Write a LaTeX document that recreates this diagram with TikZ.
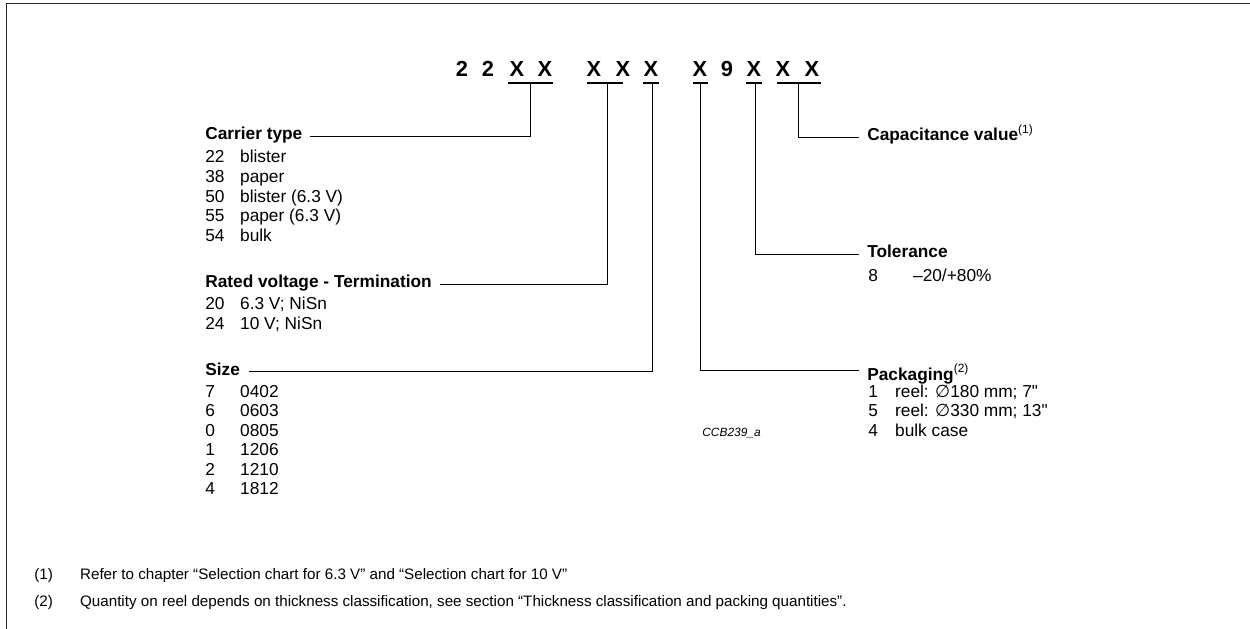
\documentclass[tikz,border=0pt]{standalone}
\usepackage{fontspec}
\setmainfont{Liberation Sans}
\newfontfamily\symfont{DejaVu Sans}
\font\inchfont="Liberation Sans" at 12.3pt
\usetikzlibrary{positioning}
\tikzset{
  codech/.style={font=\fontsize{15.5}{18}\selectfont\bfseries, anchor=base, inner sep=0pt},
  hdr/.style={font=\fontsize{12.3}{14}\selectfont\bfseries, anchor=base west, inner sep=0pt},
  lst/.style={font=\fontsize{12.3}{13.9}\selectfont, anchor=base west, inner sep=0pt},
  fnote/.style={font=\fontsize{10.8}{13}\selectfont, anchor=base west, inner sep=0pt},
  figid/.style={font=\fontsize{8.5}{10}\selectfont\itshape, anchor=base west, inner sep=0pt},
  lead/.style={line width=0.7pt},
  uline/.style={line width=0.8pt},
  frame/.style={line width=1.3pt, black!85},
}
\newcommand{\fnmark}[1]{\raisebox{5pt}{\fontsize{8.5}{10}\selectfont\mdseries(#1)}}
\newcommand{\dia}{{\symfont ∅}}
\newcommand{\inch}{{\inchfont"}}

\begin{document}
\begin{tikzpicture}[x=0.025cm, y=-0.025cm]
  \useasboundingbox (0,0) rectangle (1250,629);
  \draw[frame] (6.5,629) -- (6.5,3.5) -- (1250,3.5);

  % type code
  \foreach \ch/\x [count=\i] in {2/462, 2/488, X/517, X/545, X/594, X/623, X/651, X/700, 9/727, X/754, X/783, X/812}
    \node[codech] (c\i) at (\x,77) {\ch};
  \foreach \a/\b in {508/553, 587/623, 643/659, 693/708, 746/762, 777/821}
    \draw[uline] (\a,83) -- (\b,83);
  \coordinate (u1) at (530,83);
  \coordinate (u2) at (607,83);
  \coordinate (u3) at (652,83);
  \coordinate (u4) at (700,83);
  \coordinate (u5) at (755,83);
  \coordinate (u6) at (798,83);

  % left side
  \node[hdr] (carrier) at (205,140) {Carrier type};
  \node[lst] (carrierlist) at (205,163) {\begin{tabular}[t]{@{}p{24.8pt}@{}l@{}}
    22 & blister\\ 38 & paper\\ 50 & blister (6.3 V)\\ 55 & paper (6.3 V)\\ 54 & bulk
  \end{tabular}};
  \node[hdr] (rated) at (205,288) {Rated voltage - Termination};
  \node[lst] (ratedlist) at (205,310) {\begin{tabular}[t]{@{}p{24.8pt}@{}l@{}}
    20 & 6.3 V; NiSn\\ 24 & 10 V; NiSn
  \end{tabular}};
  \node[hdr] (size) at (205,375) {Size};
  \node[lst] (sizelist) at (205,397) {\begin{tabular}[t]{@{}p{24.8pt}@{}l@{}}
    7 & 0402\\ 6 & 0603\\ 0 & 0805\\ 1 & 1206\\ 2 & 1210\\ 4 & 1812
  \end{tabular}};

  % right side
  \node[hdr] (capval) at (867,141) {Capacitance value\fnmark{1}};
  \node[hdr] (tol) at (867,258) {Tolerance};
  \node[lst] (tollist) at (868,282) {\begin{tabular}[t]{@{}p{31.9pt}@{}l@{}}
    8 & –20/+80\%
  \end{tabular}};
  \node[hdr] (pack) at (867,380) {Packaging\fnmark{2}};
  \node[lst] (packlist) at (868,397) {\begin{tabular}[t]{@{}p{19.1pt}@{}l@{}}
    1 & reel: \dia180 mm; 7\inch\\ 5 & reel: \dia330 mm; 13\inch\\ 4 & bulk case
  \end{tabular}};
  \node[figid] (figid) at (702,436) {CCB239\_a};

  % leaders
  \draw[lead, shorten <=5pt] (carrier.mid east) -| (u1);
  \draw[lead, shorten <=6pt] (rated.mid east) -| (u2);
  \draw[lead, shorten <=6pt] (size.mid east) -| (u3);
  \draw[lead, shorten >=6pt] (u4) |- ([yshift=4pt]pack.mid west);
  \draw[lead, shorten >=6pt] (u5) |- (tol.mid west);
  \draw[lead, shorten >=6pt] (u6) |- (capval.mid west);

  % footnotes
  \node[fnote] (fn1) at (34,579) {\makebox[32.6pt][l]{(1)}Refer to chapter “Selection chart for 6.3 V” and “Selection chart for 10 V”};
  \node[fnote] (fn2) at (34,606) {\makebox[32.6pt][l]{(2)}Quantity on reel depends on thickness classification, see section “Thickness classification and packing quantities”.};
\end{tikzpicture}
\end{document}
